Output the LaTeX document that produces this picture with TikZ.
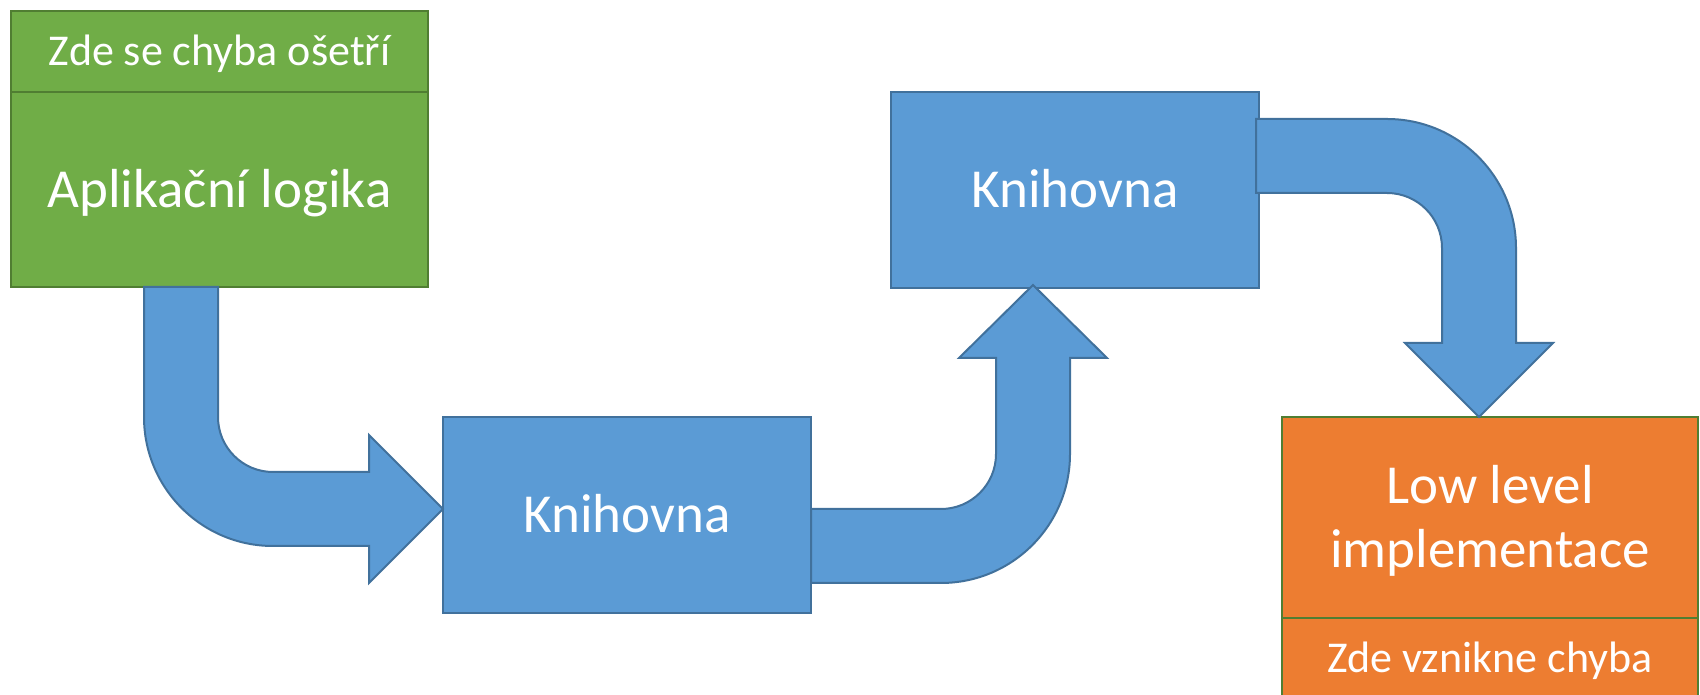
\documentclass[tikz,border=0pt]{standalone}
\usepackage{fontspec}
\setmainfont{Carlito}
\usetikzlibrary{positioning}
\definecolor{appgreen}{HTML}{70AD47}
\definecolor{appgreenline}{HTML}{507E32}
\definecolor{libblue}{HTML}{5B9BD5}
\definecolor{libblueline}{HTML}{41719C}
\definecolor{lloorange}{HTML}{ED7D31}

\begin{document}
\begin{tikzpicture}[x=1pt,y=1pt,
        box/.style={rectangle,inner sep=0pt,outer sep=0pt,line width=2pt,text=white},
        bigtext/.style={font=\fontsize{55}{64}\selectfont,text height=35.4pt,text depth=0pt},
        smalltext/.style={font=\fontsize{44}{53}\selectfont,text height=28.3pt,text depth=0pt},
        greenbox/.style={box,fill=appgreen,draw=appgreenline,minimum width=417pt},
        bluebox/.style={box,fill=libblue,draw=libblueline,minimum width=368pt,minimum height=196pt},
        orangebox/.style={box,fill=lloorange,draw=appgreenline,minimum width=416pt},
        bentarrow/.style={fill=libblue,draw=libblueline,line width=2pt,line join=miter}]
        
            \useasboundingbox (0,0) rectangle (1700,695);
        
            % Application nodes
            \node[greenbox,smalltext,minimum height=81pt] (hdr) at (219.5,643.5) {Zde se chyba ošetří};
            \node[greenbox,bigtext,minimum height=195pt,below=0pt of hdr] (app) {Aplikační logika};
            
            % Library nodes
            \node[bluebox,bigtext] (lib1) at (627,180) {Knihovna};
            \node[bluebox,bigtext] (lib2) at (1075,505) {Knihovna};
            
            % Low level nodes
            \node[orangebox,bigtext,align=center,text height=99.4pt,minimum height=201pt] (impl) at (1490,177.5) {Low level\\implementace};
            \node[orangebox,smalltext,minimum height=81pt,below=0pt of impl] (err) {Zde vznikne chyba};
            
            % Bent arrows between the layers
            \draw[bentarrow] (app.south west) ++(133,0) -- ++(0,-130) arc[start angle=180,end angle=270,radius=129] -- ++(96,0) -- ++(0,-37) -- ++(74,74) -- ++(-74,74) -- ++(0,-37) -- ++(-96,0) arc[start angle=270,end angle=180,radius=55] -- ++(0,130) -- cycle;
            \draw[bentarrow] (lib1.south east) ++(0,30) -- ++(130,0) arc[start angle=270,end angle=360,radius=129] -- ++(0,96) -- ++(37,0) -- ++(-74,73) -- ++(-74,-73) -- ++(37,0) -- ++(0,-96) arc[start angle=0,end angle=-90,radius=55] -- ++(-130,0) -- cycle;
            \draw[bentarrow] (lib2.north east) ++(-3,-27) -- ++(131,0) arc[start angle=90,end angle=0,radius=129] -- ++(0,-95) -- ++(37,0) -- ++(-74,-74) -- ++(-74,74) -- ++(37,0) -- ++(0,95) arc[start angle=0,end angle=90,radius=55] -- ++(-131,0) -- cycle;
        
        \end{tikzpicture}
\end{document}
